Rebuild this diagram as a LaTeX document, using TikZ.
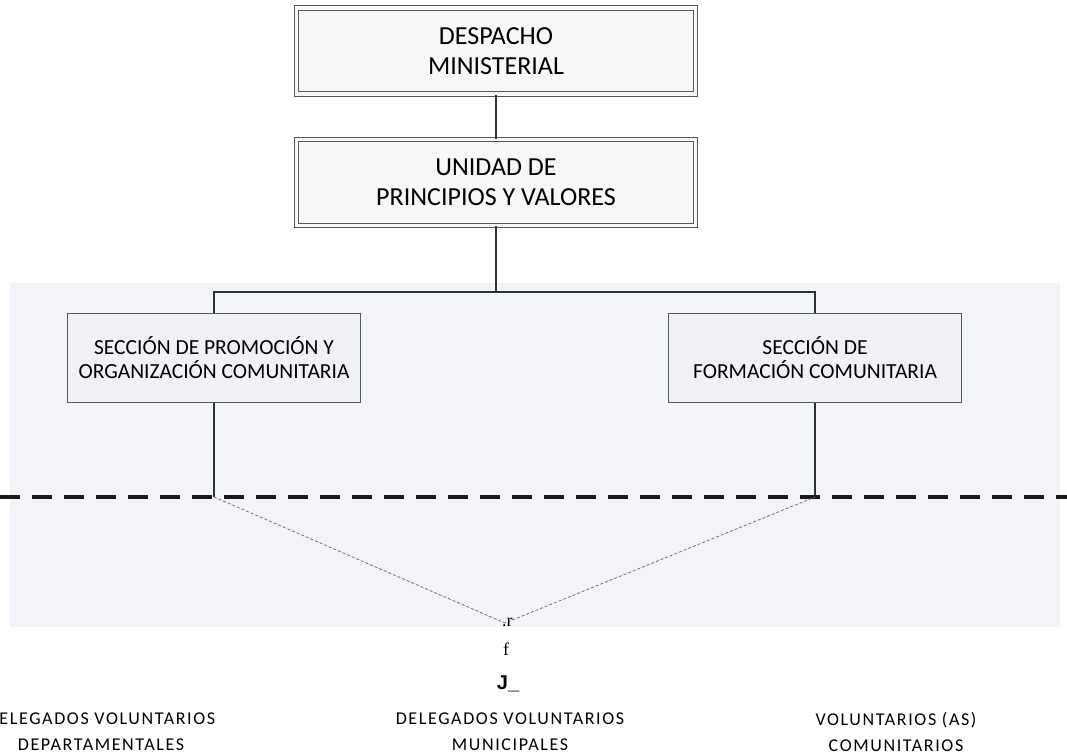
\documentclass[tikz,border=0pt]{standalone}
\usepackage{fontspec}
\setmainfont{Carlito}
\newfontfamily\etiqfont{Carlito}[LetterSpace=9]
\newfontfamily\serifont{Liberation Serif}
\newfontfamily\arialfont{Liberation Sans}
\usepackage{xcolor}
\definecolor{orgline}{RGB}{40,52,52}
\definecolor{orgborde}{RGB}{85,88,90}
\definecolor{orgfondo}{RGB}{247,247,249}
\definecolor{orgsec}{RGB}{240,241,247}
\definecolor{orgbanda}{RGB}{242,244,249}
\definecolor{orgpunto}{RGB}{115,115,115}
\usepackage{tikz}
\usetikzlibrary{positioning}

\begin{document}
\begin{tikzpicture}[
    x=1pt, y=-1pt,
    mando/.style={
        rectangle, draw=orgborde, line width=1pt, double=orgfondo,
        double distance=3.5pt, fill=orgfondo, minimum width=399pt,
        minimum height=86pt, align=center, inner sep=0pt,
        font=\fontsize{26}{30}\selectfont
    },
    seccion/.style={
        rectangle, draw=orgborde, line width=1.2pt, fill=orgsec,
        minimum width=293pt, minimum height=89pt, align=center,
        font=\fontsize{21.5}{24}\selectfont
    },
    etiqueta/.style={align=center, font=\etiqfont\fontsize{18}{26}\selectfont},
    enlace/.style={draw=orgline, line width=1.6pt},
    guia/.style={draw=orgpunto, line width=0.8pt, dash pattern=on 3pt off 2pt}
]
    \useasboundingbox (0,0) rectangle (1067,755);
    \fill[white] (0,0) rectangle (1067,755);
    \fill[orgbanda] (10,283) rectangle (1060,627);

    % Mando superior
    \node[mando] (desp) at (496,51) {DESPACHO\\MINISTERIAL};
    \node[mando,below=44.5pt of desp] (unid) {UNIDAD DE\\PRINCIPIOS Y VALORES};

    % Secciones
    \node[seccion] (secA) at (214,358) {SECCIÓN DE PROMOCIÓN Y\\ORGANIZACIÓN COMUNITARIA};
    \node[seccion] (secB) at (815,358) {SECCIÓN DE\\FORMACIÓN COMUNITARIA};

    \coordinate (rama) at (496,292);
    \coordinate (pA) at (214,497);
    \coordinate (pB) at (815,497);
    \coordinate (izq) at (0,497);
    \coordinate (der) at (1067,497);
    \coordinate (vertice) at (505,623);

    % Conectores
    \draw[enlace] (desp) -- (unid);
    \draw[enlace] (unid.south) -- (rama);
    \draw[enlace] (secA.north) |- (rama) -| (secB.north);
    \foreach \a/\b in {secA/pA,secB/pB} {
        \draw[enlace] (\a.south) -- (\b);
    }

    % Linea de corte
    \draw[draw=black!90, line width=3.5pt, dash pattern=on 20pt off 12pt] (izq) -- (der);
    \draw[guia] (pA) -- (vertice) -- (pB);

    % Marcas
    \node[font=\serifont\fontsize{18}{18}\selectfont, anchor=base west, inner sep=0pt] (marcaR) at (502,626) {.r};
    \node[font=\serifont\fontsize{18}{18}\selectfont, anchor=base, inner sep=0pt] (marcaF) at (506,655) {f};
    \node[font=\arialfont\bfseries\fontsize{20}{20}\selectfont, anchor=base, inner sep=0pt] (marcaJ) at (508,689) {J\_};

    % Voluntariado
    \node[etiqueta] (depto) at (101,732) {DELEGADOS VOLUNTARIOS\\DEPARTAMENTALES};
    \node[etiqueta] (muni) at (510,732) {DELEGADOS VOLUNTARIOS\\MUNICIPALES};
    \node[etiqueta] (comu) at (896,732) {VOLUNTARIOS (AS)\\COMUNITARIOS};
\end{tikzpicture}
\end{document}
